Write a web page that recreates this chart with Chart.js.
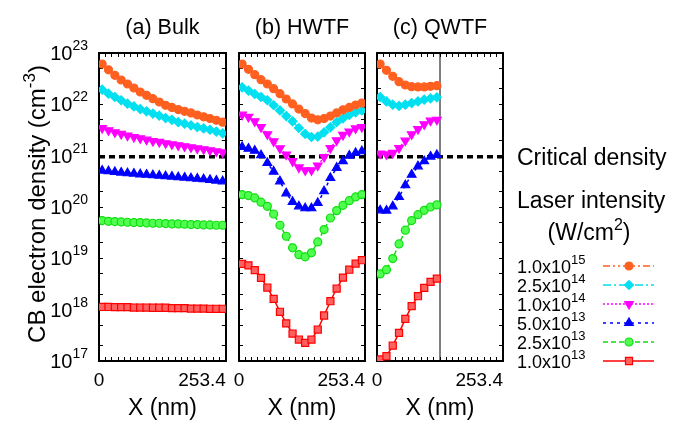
<!DOCTYPE html>
<html>
<head>
<meta charset="utf-8">
<script src="https://cdn.jsdelivr.net/npm/chart.js@4.4.1/dist/chart.umd.min.js"></script>
<style>
  html, body { margin: 0; padding: 0; background: #fff; }
  #wrap { position: relative; width: 679px; height: 422px; overflow: hidden; }
  canvas { position: absolute; top: 0; }
  #bulk { left: 0; }
  #hwtf { left: 232px; }
  #qwtf { left: 370px; }
</style>
</head>
<body>
<div id="wrap">
  <canvas id="bulk" width="232" height="422"></canvas>
  <canvas id="hwtf" width="140" height="422"></canvas>
  <canvas id="qwtf" width="309" height="422"></canvas>
</div>
<script>
const FONT = "'Liberation Sans', Arial, Helvetica, sans-serif";
Chart.defaults.font.family = FONT;
Chart.defaults.color = "#000";

// ---- data ----
const xMax = 253.4;
const qwtfFilmEnd = 126.7;
const xCells = [6.3, 19.0, 31.7, 44.3, 57.0, 69.7, 82.4, 95.0, 107.7, 120.4,
  133.1, 145.7, 158.4, 171.1, 183.8, 196.4, 209.1, 221.8, 234.5, 247.1];
const xTickValues = [0, 12.67, 25.34, 38.01, 50.68, 63.35, 76.02, 88.69, 101.36, 114.03,
  126.7, 139.37, 152.04, 164.71, 177.38, 190.05, 202.72, 215.39, 228.06, 240.73, 253.4];
const xTickLabels = ["0", "253.4"];
const yMin = 1e17;
const yMax = 1e23;
const yTickValues = [1e17, 2e17, 5e17, 1e18, 2e18, 5e18, 1e19, 2e19, 5e19, 1e20,
  2e20, 5e20, 1e21, 2e21, 5e21, 1e22, 2e22, 5e22, 1e23];
const yLabelValues = [1e17, 1e18, 1e19, 1e20, 1e21, 1e22, 1e23];
const yLabelExponents = ["17", "18", "19", "20", "21", "22", "23"];
const criticalDensity = 9.5e20;
const panelTitles = ["(a) Bulk", "(b) HWTF", "(c) QWTF"];
const intensityMantissa = ["1.0", "2.5", "1.0", "5.0", "2.5", "1.0"];
const intensityExponent = ["15", "14", "14", "13", "13", "13"];

// (a) Bulk
const bulk1e15 = [6.1e22, 4.7e22, 3.67e22, 2.98e22, 2.49e22, 2.08e22, 1.74e22, 1.5e22, 1.29e22, 1.11e22,
  9.6e21, 8.7e21, 7.9e21, 7.3e21, 6.8e21, 6.2e21, 5.7e21, 5.3e21, 4.9e21, 4.5e21];
const bulk25e14 = [1.93e22, 1.61e22, 1.39e22, 1.2e22, 1.03e22, 9.1e21, 8.1e21, 7.3e21, 6.6e21, 6.0e21,
  5.4e21, 5.0e21, 4.5e21, 4.2e21, 3.9e21, 3.6e21, 3.4e21, 3.2e21, 2.94e21, 2.73e21];
const bulk1e14 = [3.46e21, 3.12e21, 2.85e21, 2.65e21, 2.46e21, 2.31e21, 2.18e21, 2.05e21, 1.93e21, 1.85e21,
  1.74e21, 1.67e21, 1.59e21, 1.52e21, 1.46e21, 1.39e21, 1.33e21, 1.27e21, 1.22e21, 1.16e21];
const bulk5e13 = [5.12e20, 4.97e20, 4.82e20, 4.68e20, 4.54e20, 4.47e20, 4.34e20, 4.28e20, 4.15e20, 4.09e20,
  3.97e20, 3.91e20, 3.8e20, 3.74e20, 3.63e20, 3.57e20, 3.47e20, 3.37e20, 3.27e20, 3.17e20];
const bulk25e13 = [5.43e19, 5.27e19, 5.2e19, 5.12e19, 5.05e19, 4.97e19, 4.97e19, 4.9e19, 4.82e19, 4.82e19,
  4.75e19, 4.68e19, 4.68e19, 4.61e19, 4.54e19, 4.54e19, 4.48e19, 4.48e19, 4.41e19, 4.41e19];
const bulk1e13 = [1.13e18, 1.13e18, 1.12e18, 1.12e18, 1.12e18, 1.1e18, 1.1e18, 1.1e18, 1.09e18, 1.09e18,
  1.09e18, 1.07e18, 1.07e18, 1.07e18, 1.05e18, 1.05e18, 1.05e18, 1.04e18, 1.04e18, 1.04e18];

// (b) HWTF
const hwtf1e15 = [6.1e22, 4.8e22, 3.78e22, 3.02e22, 2.49e22, 2.02e22, 1.61e22, 1.27e22, 1.02e22, 8.1e21,
  6.6e21, 5.4e21, 5.0e21, 5.3e21, 5.9e21, 6.8e21, 7.8e21, 8.7e21, 9.7e21, 1.06e22];
const hwtf25e14 = [2.14e22, 1.85e22, 1.59e22, 1.39e22, 1.2e22, 9.6e21, 7.6e21, 5.9e21, 4.67e21, 3.46e21,
  2.65e21, 2.31e21, 2.35e21, 2.85e21, 3.57e21, 4.5e21, 5.34e21, 6.2e21, 6.99e21, 7.6e21];
const hwtf1e14 = [6.3e21, 5.7e21, 4.67e21, 3.6e21, 2.61e21, 1.9e21, 1.39e21, 1.05e21, 7.8e20, 5.9e20,
  5.2e20, 5.2e20, 6.4e20, 9.4e20, 1.41e21, 1.99e21, 2.53e21, 2.94e21, 3.4e21, 3.6e21];
const hwtf5e13 = [1.48e21, 1.37e21, 1.25e21, 1.02e21, 7.2e20, 4.9e20, 3.17e20, 1.85e20, 1.26e20, 1.03e20,
  9.45e19, 9.45e19, 1.2e20, 2.03e20, 3.68e20, 5.8e20, 7.8e20, 1.0e21, 1.13e21, 1.22e21];
const hwtf25e13 = [1.74e20, 1.67e20, 1.5e20, 1.24e20, 1.03e20, 7.3e19, 4.41e19, 2.69e19, 1.6e19, 1.18e19,
  1.07e19, 1.28e19, 2.09e19, 3.63e19, 6.1e19, 8.5e19, 1.08e20, 1.33e20, 1.57e20, 1.74e20];
const hwtf1e13 = [7.8e18, 7.3e18, 5.9e18, 4.16e18, 2.7e18, 1.62e18, 9.1e17, 5.4e17, 3.43e17, 2.62e17,
  2.26e17, 2.62e17, 4.1e17, 7.7e17, 1.46e18, 2.58e18, 4.2e18, 6.0e18, 7.9e18, 9.2e18];

// (c) QWTF
const qwtf1e15 = [6.1e22, 4.59e22, 3.51e22, 2.76e22, 2.38e22, 2.21e22, 2.18e22, 2.18e22, 2.24e22, 2.31e22];
const qwtf25e14 = [1.39e22, 1.14e22, 9.85e21, 9.3e21, 9.85e21, 1.06e22, 1.14e22, 1.23e22, 1.31e22, 1.37e22];
const qwtf1e14 = [1.1e21, 1.06e21, 1.13e21, 1.41e21, 1.96e21, 2.61e21, 3.31e21, 4.08e21, 4.81e21, 5.0e21];
const qwtf5e13 = [8.6e19, 8.5e19, 1.03e20, 1.57e20, 2.65e20, 4.27e20, 6.2e20, 7.8e20, 9.6e20, 1.03e21];
const qwtf25e13 = [4.98e18, 6.0e18, 9.9e18, 1.91e19, 3.53e19, 5.43e19, 7.1e19, 8.6e19, 1.0e20, 1.1e20];
const qwtf1e13 = [1.07e17, 1.24e17, 2.0e17, 3.54e17, 6.6e17, 1.17e18, 1.83e18, 2.66e18, 3.48e18, 4.03e18];

// ---- styles ----
const seriesColor = ["#ff6020", "#00e0f0", "#ff00ff", "#0000ff", "#10dd10", "#ff0000"];
const seriesFill = ["#ff6020", "#00e0f0", "#ff00ff", "#0000ff", "#50ff50", "#ff6060"];
const seriesDash = [[7, 3, 2, 3, 2, 3], [8, 3, 2, 3], [2, 2], [3, 4], [5, 3], []];
const seriesPoint = ["circle", "rectRot", "triangle", "triangle", "circle", "rect"];
const seriesRotation = [0, 0, 180, 0, 0, 0];
const seriesRadius = [4, 4.5, 5, 5, 4, 5];

// helpers
const seriesDatasets = (seriesList) =>
  seriesList.map((values, i) => ({
    label: `${intensityMantissa[i]}x10^${intensityExponent[i]}`,
    data: values.map((v, k) => ({ x: xCells[k], y: v })),
    borderColor: seriesColor[i],
    backgroundColor: seriesFill[i],
    borderWidth: 1.5,
    borderDash: seriesDash[i],
    pointStyle: seriesPoint[i],
    pointRotation: seriesRotation[i],
    pointRadius: seriesRadius[i],
    pointBackgroundColor: seriesFill[i],
    pointBorderColor: seriesColor[i],
    pointBorderWidth: 1.2,
    tension: 0,
  }));

const criticalDataset = () => ({
  label: "Critical density",
  data: [{ x: 0, y: criticalDensity }, { x: xMax, y: criticalDensity }],
  borderColor: "#000",
  borderWidth: 3.5,
  borderDash: [6, 4],
  pointRadius: 0,
});

// draws text pieces [text, size, raise] one after another
const drawRich = (ctx, pieces, x, y, align) => {
  let total = 0;
  pieces.forEach(([t, s]) => {
    ctx.font = `${s}px ${FONT}`;
    total += ctx.measureText(t).width;
  });
  let cx = align === "right" ? x - total : align === "center" ? x - total / 2 : x;
  ctx.textAlign = "left";
  ctx.textBaseline = "alphabetic";
  pieces.forEach(([t, s, raise]) => {
    ctx.font = `${s}px ${FONT}`;
    ctx.fillText(t, cx, y - raise);
    cx += ctx.measureText(t).width;
  });
};

const tickGrid = { drawOnChartArea: false, drawTicks: true, tickLength: -4, color: "#000", lineWidth: 1 };
const frame = { display: true, color: "#000", width: 2 };
const setXTicks = (s) => { s.ticks = xTickValues.map((v) => ({ value: v })); };
const setYTicks = (s) => { s.ticks = yTickValues.map((v) => ({ value: v })); };

const buildScales = (title, leftWidth) => ({
  x: {
    type: "linear", position: "bottom", min: 0, max: xMax,
    // first tick repeated so that "0" is centred and "253.4" ends at the frame ('inner' align)
    afterBuildTicks: (s) => { s.ticks = [{ value: xTickValues[0] }, ...xTickValues.map((v) => ({ value: v }))]; },
    afterFit: (s) => { s.height = 61; },
    ticks: {
      autoSkip: false, maxRotation: 0, align: "inner", padding: 0,
      font: { size: 19, lineHeight: "48px" }, color: "#000",
      callback: (v, i, ticks) => (i === 1 ? xTickLabels[0] : i === ticks.length - 1 ? xTickLabels[1] : ""),
    },
    grid: tickGrid,
    border: frame,
    title: { display: true, text: "X (nm)", font: { size: 23 }, color: "#000", padding: { top: 0, bottom: 0 } },
  },
  x2: {
    type: "linear", position: "top", min: 0, max: xMax,
    afterBuildTicks: setXTicks,
    afterFit: (s) => { s.height = 53; },
    ticks: { display: false },
    grid: tickGrid,
    border: frame,
    title: { display: true, text: title, font: { size: 21.5 }, color: "#000", padding: { top: 15, bottom: 0 } },
  },
  y: {
    type: "logarithmic", position: "left", min: yMin, max: yMax,
    afterBuildTicks: setYTicks,
    afterFit: (s) => { s.width = leftWidth; },
    ticks: { display: false },
    grid: tickGrid,
    border: frame,
  },
  y2: {
    type: "logarithmic", position: "right", min: yMin, max: yMax,
    afterBuildTicks: setYTicks,
    afterFit: (s) => { s.width = 0; },
    ticks: { display: false },
    grid: tickGrid,
    border: frame,
  },
});

const bulkLabels = {
  id: "bulkLabels",
  afterDraw(chart) {
    const { ctx, chartArea, scales: { y } } = chart;
    ctx.save();
    ctx.fillStyle = "#000";
    yLabelValues.forEach((v, i) => {
      const py = y.getPixelForValue(v);
      drawRich(ctx, [["10", 20, 0], [yLabelExponents[i], 14, 10]], chartArea.left - 11, py + 7, "right");
    });
    ctx.translate(45, (chartArea.top + chartArea.bottom) / 2 - 3);
    ctx.rotate(-Math.PI / 2);
    drawRich(ctx, [["CB electron density (cm", 24, 0], ["-3", 17, 10], [")", 24, 0]], 0, 0, "center");
    ctx.restore();
  },
};

const sideLegend = {
  id: "sideLegend",
  afterDraw(chart) {
    const { ctx, chartArea, scales: { y } } = chart;
    const left = chartArea.right + 14;
    ctx.save();
    ctx.fillStyle = "#000";
    drawRich(ctx, [["Critical density", 23, 0]], left, y.getPixelForValue(criticalDensity) + 8, "left");
    drawRich(ctx, [["Laser intensity", 23, 0]], left, 208, "left");
    drawRich(ctx, [["(W/cm", 23, 0], ["2", 16, 10], [")", 23, 0]], chartArea.right + 86, 240, "center");
    chart.data.datasets.slice(0, 6).forEach((ds, i) => {
      const ly = 266 + 19 * i;
      ctx.fillStyle = "#000";
      drawRich(ctx, [[`${intensityMantissa[i]}x10`, 18, 0], [intensityExponent[i], 13, 8.3]], left, ly + 6.5, "left");
      ctx.strokeStyle = ds.borderColor;
      ctx.lineWidth = ds.borderWidth;
      ctx.setLineDash(ds.borderDash);
      ctx.beginPath();
      ctx.moveTo(chartArea.right + 100, ly);
      ctx.lineTo(chartArea.right + 151, ly);
      ctx.stroke();
      ctx.setLineDash([]);
      ctx.fillStyle = ds.pointBackgroundColor;
      ctx.strokeStyle = ds.pointBorderColor;
      ctx.lineWidth = ds.pointBorderWidth;
      Chart.helpers.drawPoint(ctx, {
        pointStyle: ds.pointStyle, rotation: ds.pointRotation,
        radius: ds.pointRadius, borderWidth: ds.pointBorderWidth,
      }, chartArea.right + 126, ly);
    });
    ctx.restore();
  },
};

const makePanel = (canvasId, datasets, title, leftWidth, rightPad, plugins) =>
  new Chart(document.getElementById(canvasId), {
    type: "line",
    data: { datasets },
    options: {
      responsive: false,
      animation: false,
      devicePixelRatio: 1,
      events: [],
      layout: { padding: { left: 0, right: rightPad, top: 0, bottom: 0 } },
      plugins: { legend: { display: false }, tooltip: { enabled: false } },
      scales: buildScales(title, leftWidth),
    },
    plugins,
  });

makePanel("bulk",
  [...seriesDatasets([bulk1e15, bulk25e14, bulk1e14, bulk5e13, bulk25e13, bulk1e13]), criticalDataset()],
  panelTitles[0], 99, 6, [bulkLabels]);

makePanel("hwtf",
  [...seriesDatasets([hwtf1e15, hwtf25e14, hwtf1e14, hwtf5e13, hwtf25e13, hwtf1e13]), criticalDataset()],
  panelTitles[1], 7, 7, []);

makePanel("qwtf",
  [...seriesDatasets([qwtf1e15, qwtf25e14, qwtf1e14, qwtf5e13, qwtf25e13, qwtf1e13]), criticalDataset(),
    { label: "film end", data: [{ x: qwtfFilmEnd, y: yMin }, { x: qwtfFilmEnd, y: yMax }],
      borderColor: "#000", borderWidth: 1, pointRadius: 0 }],
  panelTitles[2], 7, 176, [sideLegend]);
</script>
</body>
</html>
